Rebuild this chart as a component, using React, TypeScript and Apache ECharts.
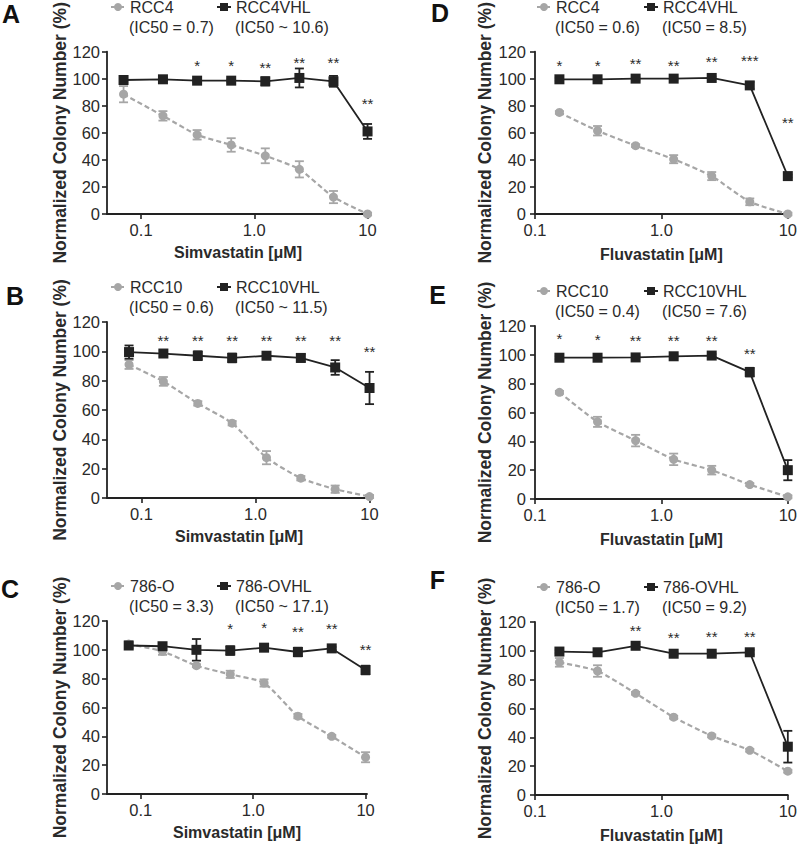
import React, { useEffect, useRef } from 'react';
import * as echarts from 'echarts';

const FONT = '"Liberation Sans", Arial, Helvetica, sans-serif';
const GRAY = '#a6a6a6';
const BLACK = '#222222';
const TEXT = '#2a2a2a';

// ---------- Tick labels ----------
const xTickValues = [0.1, 1, 10];
const xTickLabels = ['0.1', '1.0', '10'];

// ---------- Panel A: Simvastatin, RCC4 / RCC4VHL ----------
const doseSimA = [0.07, 0.156, 0.3125, 0.625, 1.25, 2.5, 5, 10];
const rcc4Sim = [88.5, 72.5, 58.5, 51, 43, 33, 12.5, 0];
const rcc4SimErr = [6, 3.5, 3.5, 5, 5.5, 6, 4.5, 1];
const rcc4vhlSim = [99, 99.5, 98.5, 98.5, 98, 100.5, 98, 61];
const rcc4vhlSimErr = [1.5, 1, 1, 1, 3, 7, 4, 5.5];
const starsA = ['', '', '*', '*', '**', '**', '**', '**'];
const starYA = [0, 0, 112, 112, 111, 114.5, 114.5, 84.5];

// ---------- Panel B: Simvastatin, RCC10 / RCC10VHL ----------
const doseSimB = [0.078, 0.156, 0.3125, 0.625, 1.25, 2.5, 5, 10];
const rcc10Sim = [91, 79.5, 64.5, 51, 27.5, 13.5, 6, 1];
const rcc10SimErr = [3, 3, 1.5, 1.5, 4.5, 1.5, 2.5, 1];
const rcc10vhlSim = [99.5, 98.5, 97, 95.5, 97, 95.5, 89, 75];
const rcc10vhlSimErr = [4.5, 2, 3, 3, 1.5, 2.5, 5, 11];
const starsB = ['', '**', '**', '**', '**', '**', '**', '**'];
const starYB = [0, 110, 110, 110, 110, 110, 110, 102];

// ---------- Panel C: Simvastatin, 786-O / 786-OVHL ----------
const doseSimC = [0.078, 0.156, 0.3125, 0.625, 1.25, 2.5, 5, 10];
const o786Sim = [104, 99, 89, 83, 77, 54, 40, 25.5];
const o786SimErr = [2, 2.5, 1, 2.5, 2.5, 1.5, 1, 3.5];
const o786vhlSim = [103, 102.5, 100, 99.5, 101.5, 98.5, 101, 86];
const o786vhlSimErr = [2, 1.5, 7.5, 3, 1.5, 3, 1, 3];
const starsC = ['', '', '', '*', '*', '**', '**', '**'];
const starYC = [0, 0, 0, 117, 118, 115, 117, 103];

// ---------- Fluvastatin doses ----------
const doseFlu = [0.156, 0.3125, 0.625, 1.25, 2.5, 5, 10];

// ---------- Panel D: Fluvastatin, RCC4 / RCC4VHL ----------
const rcc4Flu = [75, 61.5, 50.5, 40.5, 28, 9, 0];
const rcc4FluErr = [1, 3.5, 1, 3, 3, 2.5, 1];
const rcc4vhlFlu = [99.5, 99.5, 100, 100, 100.5, 95, 28];
const rcc4vhlFluErr = [1, 1, 1, 1, 1, 2.5, 1];
const starsD = ['*', '*', '**', '**', '**', '***', '**'];
const starYD = [112, 112, 113.7, 112.6, 115, 115.8, 70];

// ---------- Panel E: Fluvastatin, RCC10 / RCC10VHL ----------
const rcc10Flu = [74, 53.5, 40.5, 27.5, 20, 10, 1.5];
const rcc10FluErr = [1, 3.5, 4, 4, 3, 1, 1];
const rcc10vhlFlu = [98, 98, 98.2, 99, 99.5, 88, 20];
const rcc10vhlFluErr = [1, 1, 1, 1, 1, 3, 7];
const starsE = ['*', '*', '**', '**', '**', '**', ''];
const starYE = [113.5, 113, 112.5, 112.5, 112.5, 103.6, 0];

// ---------- Panel F: Fluvastatin, 786-O / 786-OVHL ----------
const o786Flu = [92, 86, 70.5, 54, 41, 31, 16.5];
const o786FluErr = [3, 4, 1, 1, 1, 1, 1];
const o786vhlFlu = [99.5, 99, 103.5, 98, 98, 99, 33.5];
const o786vhlFluErr = [1, 1, 1, 1, 1, 1.5, 11];
const starsF = ['', '', '**', '**', '**', '**', ''];
const starYF = [0, 0, 116.5, 112, 112.5, 112.5, 0];

type Panel = {
  letter: string; lx: number; ly: number;
  left: number; top: number; width: number; height: number;
  xMin: number; xMax: number; drug: string;
  dose: number[]; names: string[]; ic50: string[];
  gray: number[]; grayErr: number[]; black: number[]; blackErr: number[];
  stars: string[]; starY: number[];
  right: boolean;
};

const panels: Panel[] = [
  { letter: 'A', lx: 11, ly: 13.5, left: 107, top: 42, width: 262, height: 172, xMin: 0.05, xMax: 10.3,
    drug: 'Simvastatin [μM]', dose: doseSimA, names: ['RCC4', 'RCC4VHL'], ic50: ['(IC50 = 0.7)', '(IC50 ~ 10.6)'],
    gray: rcc4Sim, grayErr: rcc4SimErr, black: rcc4vhlSim, blackErr: rcc4vhlSimErr, stars: starsA, starY: starYA, right: false },
  { letter: 'B', lx: 15, ly: 295.5, left: 107, top: 322, width: 264, height: 176, xMin: 0.05, xMax: 10.3,
    drug: 'Simvastatin [μM]', dose: doseSimB, names: ['RCC10', 'RCC10VHL'], ic50: ['(IC50 = 0.6)', '(IC50 ~ 11.5)'],
    gray: rcc10Sim, grayErr: rcc10SimErr, black: rcc10vhlSim, blackErr: rcc10vhlSimErr, stars: starsB, starY: starYB, right: false },
  { letter: 'C', lx: 10, ly: 589, left: 107, top: 621, width: 260, height: 173, xMin: 0.05, xMax: 10.3,
    drug: 'Simvastatin [μM]', dose: doseSimC, names: ['786-O', '786-OVHL'], ic50: ['(IC50 = 3.3)', '(IC50 ~ 17.1)'],
    gray: o786Sim, grayErr: o786SimErr, black: o786vhlSim, blackErr: o786vhlSimErr, stars: starsC, starY: starYC, right: false },
  { letter: 'D', lx: 440, ly: 12.5, left: 535, top: 42, width: 255, height: 172, xMin: 0.1, xMax: 10,
    drug: 'Fluvastatin [μM]', dose: doseFlu, names: ['RCC4', 'RCC4VHL'], ic50: ['(IC50 = 0.6)', '(IC50 = 8.5)'],
    gray: rcc4Flu, grayErr: rcc4FluErr, black: rcc4vhlFlu, blackErr: rcc4vhlFluErr, stars: starsD, starY: starYD, right: true },
  { letter: 'E', lx: 437.5, ly: 295, left: 535, top: 326, width: 255, height: 173, xMin: 0.1, xMax: 10,
    drug: 'Fluvastatin [μM]', dose: doseFlu, names: ['RCC10', 'RCC10VHL'], ic50: ['(IC50 = 0.4)', '(IC50 = 7.6)'],
    gray: rcc10Flu, grayErr: rcc10FluErr, black: rcc10vhlFlu, blackErr: rcc10vhlFluErr, stars: starsE, starY: starYE, right: true },
  { letter: 'F', lx: 437.5, ly: 580, left: 535, top: 622, width: 255, height: 173, xMin: 0.1, xMax: 10,
    drug: 'Fluvastatin [μM]', dose: doseFlu, names: ['786-O', '786-OVHL'], ic50: ['(IC50 = 1.7)', '(IC50 = 9.2)'],
    gray: o786Flu, grayErr: o786FluErr, black: o786vhlFlu, blackErr: o786vhlFluErr, stars: starsF, starY: starYF, right: true },
];

function errorSeries(i: number, dose: number[], mean: number[], err: number[], color: string, w: number) {
  return {
    type: 'custom',
    xAxisIndex: i,
    yAxisIndex: i,
    z: 2,
    silent: true,
    data: dose.map((d, j) => [d, mean[j] - err[j], mean[j] + err[j]]),
    encode: { x: 0, y: [1, 2] },
    renderItem: (params: any, api: any) => {
      const lo = api.coord([api.value(0), api.value(1)]);
      const hi = api.coord([api.value(0), api.value(2)]);
      const style = { stroke: color, lineWidth: 1.8 };
      return {
        type: 'group',
        children: [
          { type: 'line', shape: { x1: lo[0], y1: lo[1], x2: hi[0], y2: hi[1] }, style },
          { type: 'line', shape: { x1: lo[0] - w, y1: lo[1], x2: lo[0] + w, y2: lo[1] }, style },
          { type: 'line', shape: { x1: hi[0] - w, y1: hi[1], x2: hi[0] + w, y2: hi[1] }, style },
        ],
      };
    },
  };
}

function buildOption() {
  const grid: any[] = [];
  const xAxis: any[] = [];
  const yAxis: any[] = [];
  const series: any[] = [];
  const legend: any[] = [];
  const graphic: any[] = [];

  panels.forEach((p, i) => {
    grid.push({ left: p.left, top: p.top, width: p.width, height: p.height });
    const axisLine = { show: true, onZero: false, lineStyle: { color: BLACK, width: 1.8 } };
    xAxis.push({
      gridIndex: i,
      type: 'log',
      logBase: 10,
      min: p.xMin,
      max: p.xMax,
      axisLine,
      axisTick: { show: true, length: 5, customValues: xTickValues, lineStyle: { color: BLACK, width: 1.6 } },
      minorTick: { show: false },
      splitLine: { show: false },
      axisLabel: {
        customValues: xTickValues,
        fontSize: 16.5,
        fontFamily: FONT,
        color: TEXT,
        margin: 7,
        formatter: (v: number) => {
          for (let k = 0; k < xTickValues.length; k++) {
            if (Math.abs(v - xTickValues[k]) < 1e-6 * Math.max(1, xTickValues[k])) return xTickLabels[k];
          }
          return '';
        },
      },
      name: p.drug,
      nameLocation: 'middle',
      nameGap: p.right ? 32 : 30,
      nameTextStyle: { fontSize: 16, fontWeight: 'bold', fontFamily: FONT, color: TEXT },
    });
    yAxis.push({
      gridIndex: i,
      type: 'value',
      min: 0,
      max: 120,
      interval: 20,
      axisLine,
      axisTick: { show: true, length: 5, lineStyle: { color: BLACK, width: 1.6 } },
      splitLine: { show: false },
      axisLabel: { fontSize: 16.5, fontFamily: FONT, color: TEXT, margin: p.right ? 9 : 7 },
      name: 'Normalized Colony Number (%)',
      nameLocation: 'middle',
      nameGap: p.right ? 41 : 38,
      nameTextStyle: { fontSize: 17.5, fontWeight: 'bold', fontFamily: FONT, color: TEXT },
    });

    series.push(errorSeries(i, p.dose, p.gray, p.grayErr, GRAY, 4.5));
    series.push(errorSeries(i, p.dose, p.black, p.blackErr, BLACK, 4.5));
    series.push({
      type: 'line',
      name: p.names[0],
      xAxisIndex: i,
      yAxisIndex: i,
      z: 3,
      data: p.dose.map((d, j) => [d, p.gray[j]]),
      symbol: 'circle',
      symbolSize: 9,
      smooth: 0.2,
      itemStyle: { color: GRAY },
      lineStyle: { color: GRAY, width: 2.2, type: [5, 3] },
    });
    series.push({
      type: 'line',
      name: p.names[1],
      xAxisIndex: i,
      yAxisIndex: i,
      z: 4,
      data: p.dose.map((d, j) => [d, p.black[j]]),
      symbol: 'rect',
      symbolSize: 10,
      itemStyle: { color: BLACK },
      lineStyle: { color: BLACK, width: 1.8 },
    });
    const starIdx = p.stars.map((s, j) => (s ? j : -1)).filter((j) => j >= 0);
    const starText = starIdx.map((j) => p.stars[j]);
    series.push({
      type: 'custom',
      xAxisIndex: i,
      yAxisIndex: i,
      z: 5,
      silent: true,
      data: starIdx.map((j) => [p.dose[j], p.starY[j]]),
      renderItem: (params: any, api: any) => {
        const pt = api.coord([api.value(0), api.value(1)]);
        return {
          type: 'text',
          x: pt[0],
          y: pt[1] + 3.5,
          style: {
            text: starText[params.dataIndex],
            fill: TEXT,
            fontSize: 15,
            fontFamily: FONT,
            align: 'center',
            verticalAlign: 'middle',
          },
        };
      },
    });

    const grayX = p.right ? 536 : 110;
    const blackX = p.right ? 643 : 216;
    const legendCommon = {
      top: p.top - 43,
      padding: 0,
      itemWidth: 14,
      itemHeight: 10,
      itemGap: 0,
      selectedMode: false,
      textStyle: { fontSize: 16, fontFamily: FONT, color: TEXT, lineHeight: 16 },
    };
    legend.push({ ...legendCommon, left: grayX, data: [p.names[0]] });
    legend.push({ ...legendCommon, left: blackX, data: [p.names[1]] });

    graphic.push({
      type: 'text',
      x: grayX + 19,
      y: p.top - 15,
      style: { text: p.ic50[0], fontSize: 16, fontFamily: FONT, fill: TEXT, align: 'left', verticalAlign: 'middle' },
    });
    graphic.push({
      type: 'text',
      x: blackX + 19,
      y: p.top - 15,
      style: { text: p.ic50[1], fontSize: 16, fontFamily: FONT, fill: TEXT, align: 'left', verticalAlign: 'middle' },
    });
    graphic.push({
      type: 'text',
      x: p.lx,
      y: p.ly,
      style: { text: p.letter, fontSize: 25, fontWeight: 'bold', fontFamily: FONT, fill: '#111', align: 'center', verticalAlign: 'middle' },
    });
  });

  return {
    animation: false,
    backgroundColor: '#ffffff',
    grid,
    xAxis,
    yAxis,
    legend,
    series,
    graphic,
  };
}

export default function App() {
  const ref = useRef<HTMLDivElement>(null);
  useEffect(() => {
    document.body.style.margin = '0';
    if (!ref.current) return;
    const chart = echarts.init(ref.current, undefined, { renderer: 'svg' });
    chart.setOption(buildOption() as any);
    return () => chart.dispose();
  }, []);
  return <div ref={ref} style={{ position: 'absolute', left: 0, top: 0, width: 800, height: 844 }} />;
}
